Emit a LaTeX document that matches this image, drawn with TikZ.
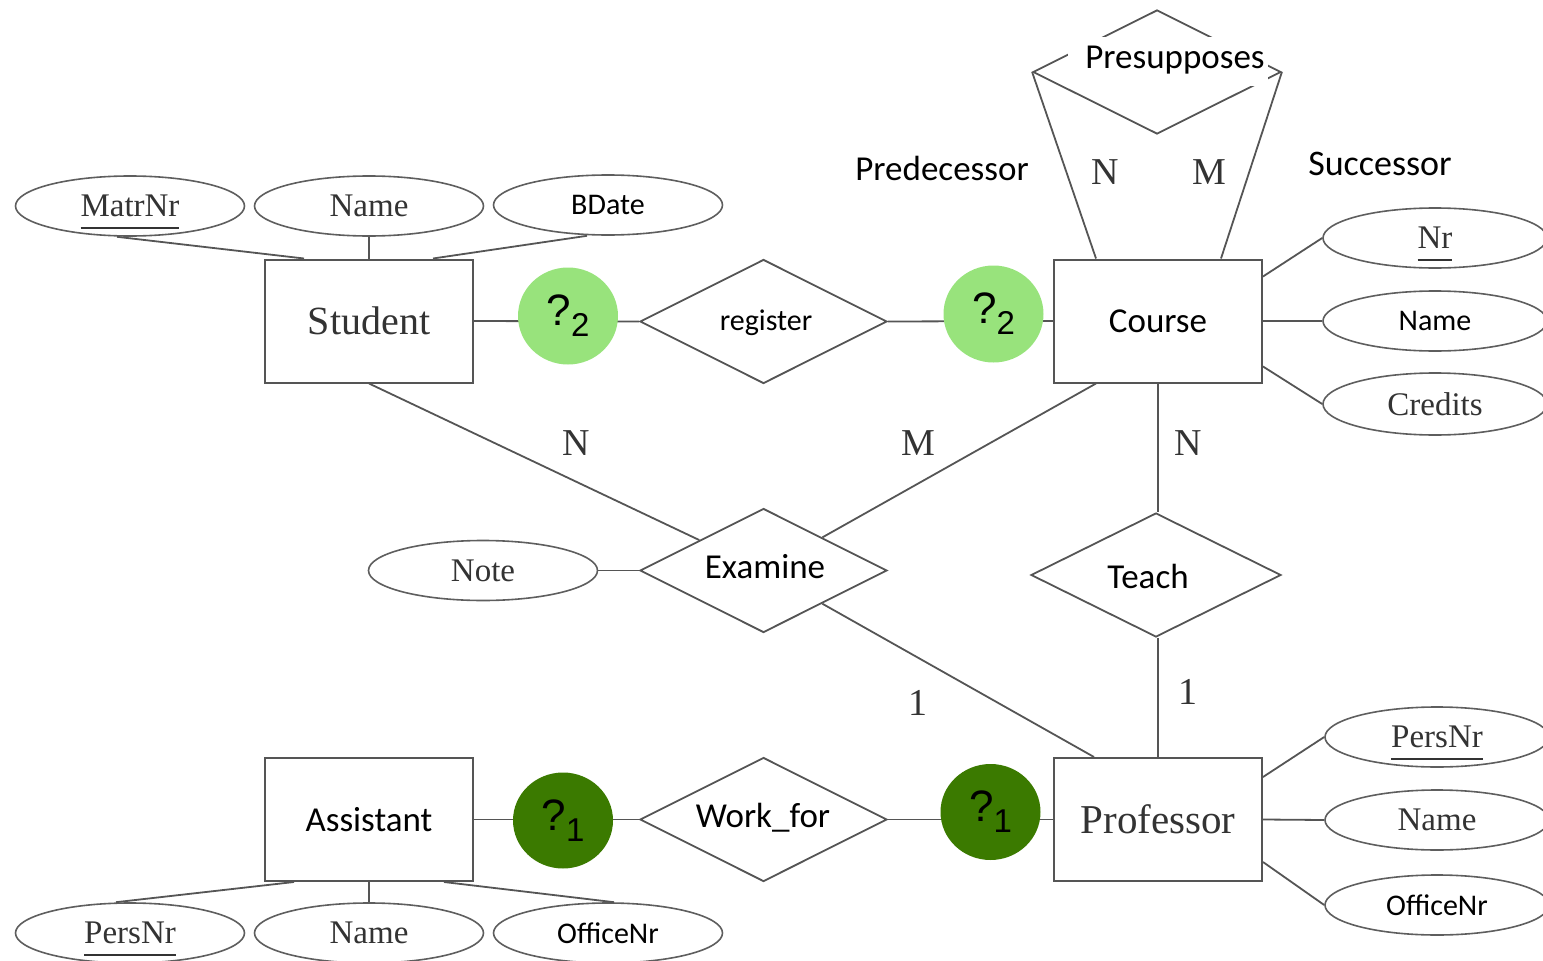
\documentclass[tikz,border=0pt]{standalone}
\usepackage{fontspec}
\setmainfont{Liberation Serif}
\newfontfamily\carl{Carlito}
\newfontfamily\arialf{Liberation Sans}
\usetikzlibrary{shapes.geometric}

\definecolor{linegray}{HTML}{555555}
\definecolor{attrgray}{HTML}{5E5E5E}
\definecolor{textgray}{HTML}{333333}
\definecolor{lightgreen}{HTML}{98E37C}
\definecolor{darkgreen}{HTML}{3B7A00}

% underlined key attribute (the rule does not change the box size)
\newsavebox\keybox
\newcommand\keyattr[1]{\sbox\keybox{#1}\rlap{\smash{\textcolor{textgray}{\rule[-12pt]{\wd\keybox}{1.8pt}}}}\usebox\keybox}

\tikzset{
  conn/.style={draw=linegray, line width=1.8pt},
  entity/.style={draw=linegray, line width=2pt, minimum width=208pt, minimum height=123pt, inner sep=0pt},
  rel/.style={diamond, draw=linegray, line width=1.8pt, minimum width=247pt, minimum height=124pt, inner sep=0pt},
  attr/.style={ellipse, draw=attrgray, line width=1.6pt, minimum width=229pt, minimum height=60pt, inner sep=0pt},
  cardlight/.style={ellipse, fill=lightgreen, minimum width=100pt, minimum height=97pt, inner sep=0pt},
  carddark/.style={ellipse, fill=darkgreen, minimum width=100pt, minimum height=96pt, inner sep=0pt},
  serifbig/.style={font=\fontsize{40}{48}\selectfont, text=textgray},
  serifattr/.style={font=\fontsize{33}{40}\selectfont, text=textgray},
  seriflabel/.style={font=\fontsize{38}{44}\selectfont, text=textgray, inner sep=0pt},
  sansbig/.style={font=\carl\fontsize{35}{42}\selectfont, text=black, inner sep=0pt},
  sansattr/.style={font=\carl\fontsize{30}{36}\selectfont, text=black},
  sanslabel/.style={font=\carl\fontsize{35}{42}\selectfont, text=black, inner sep=0pt},
}
\newcommand\qmark[1]{{\arialf\fontsize{44}{44}\selectfont ?\raisebox{-11pt}{\fontsize{33}{33}\selectfont #1}}}

\begin{document}
\begin{tikzpicture}[x=1pt, y=-1pt]
\useasboundingbox (0,0) rectangle (1543,961);

% entities
\node[entity, serifbig] (student) at (369,321) {Student};
\node[entity, sansbig]  (course)  at (1158,321) {Course};
\node[entity, sansbig]  (asst)    at (369,819.5) {Assistant};
\node[entity, serifbig, font=\fontsize{41}{48}\selectfont] (prof) at (1158,819.5) {Professor};

% relationships (diamond outlines, labels set separately)
\node[rel] (register) at (763.5,321.5) {};
\node[sansattr, inner sep=0pt] (regtxt) at (766,323) {register};
\node[rel] (exam) at (763.5,570.5) {};
\node[sansbig] (examtxt) at (765,567) {Examine};
\node[rel, minimum width=250pt] (teach) at (1156,575) {};
\node[sansbig] (teachtxt) at (1148,576) {Teach};
\node[rel] (work) at (763.5,819.5) {};
\node[sansbig] (worktxt) at (763,818) {Work\_for};
\node[rel, minimum width=248pt] (pres) at (1157,72) {};
\node[fill=white, minimum width=200pt, minimum height=49pt, inner sep=0pt] (presmask) at (1168,61.5) {};
\node[sansbig] (prestxt) at (1175,60) {Presupposes};

% attributes of Student
\node[attr, serifattr] (matr)  at (130,206) {\keyattr{MatrNr}};
\node[attr, serifattr] (sname) at (369,206) {Name};
\node[attr, sansattr]  (sbd)   at (608,205) {BDate};

% attributes of Course
\node[attr, serifattr, minimum width=224pt] (cnr)   at (1435,238) {\keyattr{Nr}};
\node[attr, sansattr,  minimum width=224pt] (cname) at (1435,321) {Name};
\node[attr, serifattr, minimum width=224pt, minimum height=62pt] (ccred) at (1435,404) {Credits};

% attribute of Examine
\node[attr, serifattr] (note) at (483,570.5) {Note};

% attributes of Professor
\node[attr, serifattr, minimum width=224pt] (ppers) at (1437,737) {\keyattr{PersNr}};
\node[attr, serifattr, minimum width=224pt] (pname) at (1437,820) {Name};
\node[attr, sansattr,  minimum width=224pt] (poff)  at (1437,905) {OfficeNr};

% attributes of Assistant
\node[attr, serifattr] (apers) at (130,933) {\keyattr{PersNr}};
\node[attr, serifattr] (aname) at (369,933) {Name};
\node[attr, sansattr]  (aoff)  at (608,933) {OfficeNr};

% attribute connectors
\draw[conn] ([xshift=-13pt]matr.south) -- ([xshift=40pt]student.north west);
\draw[conn] (sname.south) -- (student.north);
\draw[conn] ([xshift=-21pt]sbd.south) -- ([xshift=-41pt]student.north east);
\draw[conn] ([yshift=-18pt]course.north east) -- (cnr.west);
\draw[conn] (course.east) -- (cname.west);
\draw[conn] ([yshift=17pt]course.south east) -- (ccred.west);
\draw[conn] (note.east) -- (exam.west);
\draw[conn] ([yshift=-20pt]prof.north east) -- (ppers.west);
\draw[conn] (prof.east) -- (pname.west);
\draw[conn] ([yshift=20pt]prof.south east) -- (poff.west);
\draw[conn] ([xshift=30pt]asst.south west) -- ([xshift=-14pt]apers.north);
\draw[conn] (asst.south) -- (aname.north);
\draw[conn] ([xshift=-30pt]asst.south east) -- ([xshift=6pt]aoff.north);

% relationship connectors
\draw[conn] (student.east) -- (register.west);
\draw[conn] (register.east) -- (course.west);
\draw[conn] (asst.east) -- (work.west);
\draw[conn] (work.east) -- (prof.west);
\draw[conn] (student.south) -- (exam);
\draw[conn] ([xshift=43pt]course.south west) -- (exam);
\draw[conn] ([xshift=41pt]prof.north west) -- (exam);
\draw[conn] (course.south) -- (course.south |- teach.north);
\draw[conn] (course.south |- teach.south) -- (prof.north);
\draw[conn] (pres.west) -- ([xshift=43pt]course.north west);
\draw[conn] (pres.east) -- ([xshift=-42pt]course.north east);

% cardinality placeholders
\node[cardlight] (qa) at (568,316)   {\qmark{2}};
\node[cardlight] (qb) at (993.5,314) {\qmark{2}};
\node[carddark]  (qc) at (563,820.5) {\qmark{1}};
\node[carddark]  (qd) at (990.5,812) {\qmark{1}};

% role names and cardinalities
\node[sanslabel] (pred) at (942,168) {Predecessor};
\node[sanslabel, font=\carl\fontsize{36}{42}\selectfont] (succ) at (1380,164) {Successor};
\node[seriflabel] (pn) at (1105,172) {N};
\node[seriflabel] (pm) at (1209,172) {M};
\node[seriflabel] (en) at (576,443) {N};
\node[seriflabel] (em) at (918,443) {M};
\node[seriflabel] (tn) at (1188,443) {N};
\node[seriflabel] (e1) at (918,703) {1};
\node[seriflabel] (t1) at (1188,692) {1};
\end{tikzpicture}
\end{document}
